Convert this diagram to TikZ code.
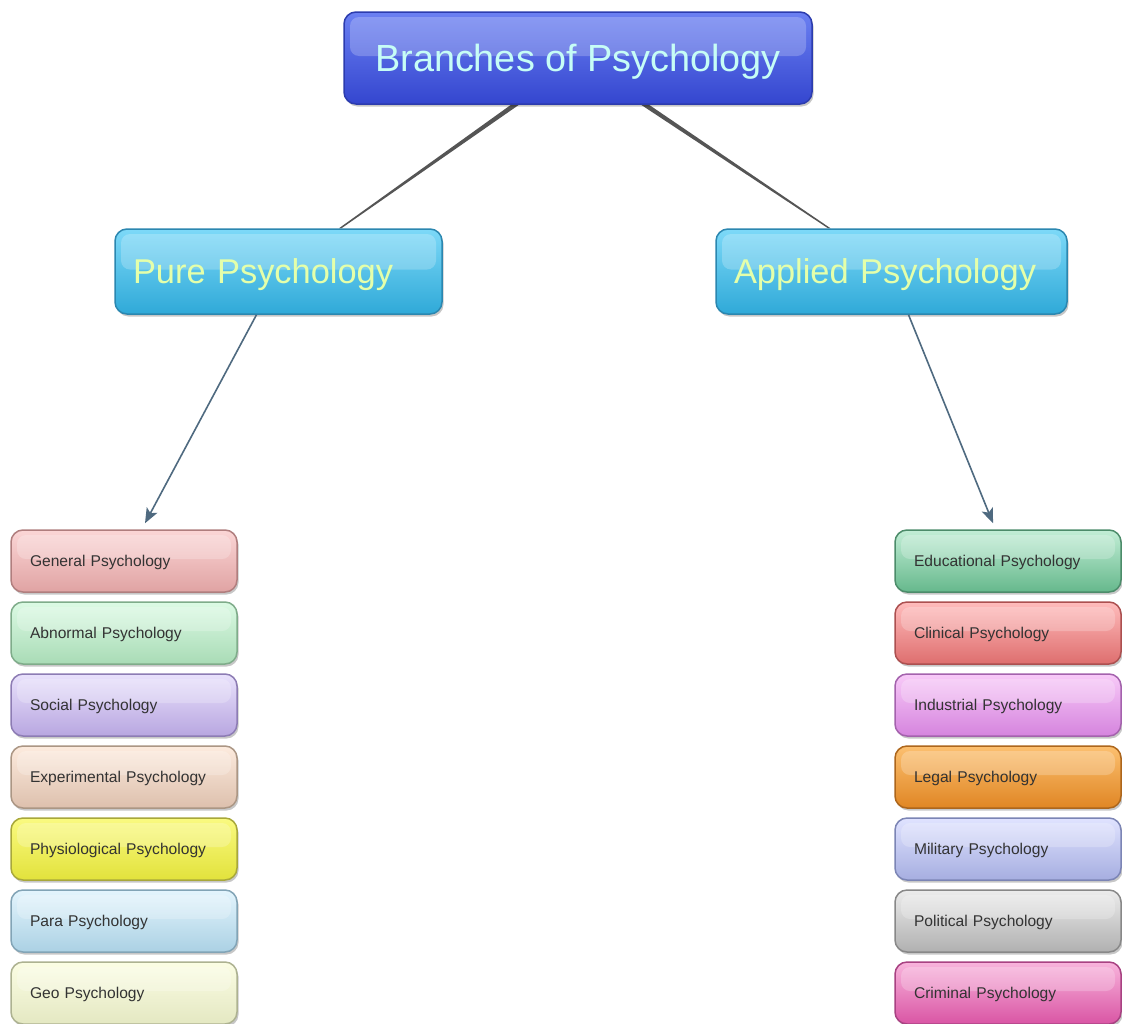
\documentclass[tikz,border=0pt]{standalone}
\usepackage{fontspec}
\setmainfont{Liberation Sans}
\usetikzlibrary{shadows,backgrounds,arrows.meta}
\definecolor{topA}{HTML}{6B80F2}\definecolor{topB}{HTML}{3446CF}\definecolor{topC}{HTML}{2C3CAE}
\definecolor{cyA}{HTML}{7DD9F8}\definecolor{cyB}{HTML}{2FA9D8}\definecolor{cyC}{HTML}{2B87B0}
\definecolor{toptext}{HTML}{C6FDF6}\definecolor{midtext}{HTML}{E4FFAA}\definecolor{leaftext}{HTML}{333333}
\definecolor{linkgrey}{HTML}{555555}\definecolor{arrowcol}{HTML}{4F6A80}
\definecolor{genA}{HTML}{FBD6D6}\definecolor{genB}{HTML}{E0A3A3}\definecolor{genC}{HTML}{B07E7E}
\definecolor{abnA}{HTML}{DCFAE4}\definecolor{abnB}{HTML}{A9DBB6}\definecolor{abnC}{HTML}{7FAC8A}
\definecolor{socA}{HTML}{E9E2FC}\definecolor{socB}{HTML}{B8A6E0}\definecolor{socC}{HTML}{8D7CB4}
\definecolor{expA}{HTML}{FDEBDE}\definecolor{expB}{HTML}{DDC0AD}\definecolor{expC}{HTML}{AB9684}
\definecolor{phyA}{HTML}{FAFA80}\definecolor{phyB}{HTML}{E2E23C}\definecolor{phyC}{HTML}{A8A83A}
\definecolor{parA}{HTML}{E4F5FD}\definecolor{parB}{HTML}{ABD1E4}\definecolor{parC}{HTML}{82A4B6}
\definecolor{geoA}{HTML}{FBFDE4}\definecolor{geoB}{HTML}{E4E8C2}\definecolor{geoC}{HTML}{ADB291}
\definecolor{eduA}{HTML}{C2EED6}\definecolor{eduB}{HTML}{66B88C}\definecolor{eduC}{HTML}{4C8C6A}
\definecolor{cliA}{HTML}{FFBCBC}\definecolor{cliB}{HTML}{DE6E6E}\definecolor{cliC}{HTML}{AC5050}
\definecolor{indA}{HTML}{F8CAF8}\definecolor{indB}{HTML}{D584DE}\definecolor{indC}{HTML}{A462AD}
\definecolor{legA}{HTML}{FCC070}\definecolor{legB}{HTML}{E08624}\definecolor{legC}{HTML}{AD661C}
\definecolor{milA}{HTML}{E0E3FF}\definecolor{milB}{HTML}{A6AEE0}\definecolor{milC}{HTML}{7C85B5}
\definecolor{polA}{HTML}{ECECEC}\definecolor{polB}{HTML}{B0B0B0}\definecolor{polC}{HTML}{888888}
\definecolor{crmA}{HTML}{F8B4DC}\definecolor{crmB}{HTML}{D955A4}\definecolor{crmC}{HTML}{A84282}
\tikzset{
  glossy/.style={rounded corners=12pt, top color=#1A, bottom color=#1B, draw=#1C, line width=1.5pt,
    drop shadow={shadow xshift=1.5pt, shadow yshift=-2.5pt, opacity=0.22, fill=black},
    path picture={\fill[white, opacity=0.22, rounded corners=9pt]
      ([xshift=6pt,yshift=-5pt]path picture bounding box.north west) rectangle
      ([xshift=-6pt,yshift=2pt]path picture bounding box.east);}},
  rootbox/.style={glossy=top, minimum width=468pt, minimum height=92pt, inner sep=0pt,
    text=toptext, font=\fontsize{37.8}{40}\selectfont, text depth=0pt},
  midbox/.style={glossy=cy, minimum height=85pt, inner xsep=18pt, inner ysep=0pt, align=left,
    text=midtext, font=\fontsize{34.4}{36}\selectfont, text depth=0pt},
  leaf/.style={glossy=#1, minimum height=62pt, text width=188pt, inner xsep=19pt, inner ysep=0pt,
    align=left, text=leaftext, font=\fontsize{15.6}{18}\selectfont, text depth=0pt},
  link/.style={fill=linkgrey},
  arr/.style={draw=arrowcol, line width=1.6pt, -{Stealth[length=15pt,width=12pt,inset=3.5pt]}}
}
\begin{document}
\begin{tikzpicture}[x=1pt,y=-1pt]
\useasboundingbox (0,0) rectangle (1122,1023);
\node[rootbox] (root) at (578,58) {Branches of Psychology};
\node[midbox, text width=291pt] (pure) at (278.5,271.5) {Pure Psychology};
\node[midbox, text width=315pt] (applied) at (891.5,271.5) {Applied Psychology};
% left column
\node[leaf=gen] (general) at (124,561) {General Psychology};
\node[leaf=abn] (abnormal) at (124,633) {Abnormal Psychology};
\node[leaf=soc] (social) at (124,705) {Social Psychology};
\node[leaf=exp] (experimental) at (124,777) {Experimental Psychology};
\node[leaf=phy] (physiological) at (124,849) {Physiological Psychology};
\node[leaf=par] (para) at (124,921) {Para Psychology};
\node[leaf=geo] (geo) at (124,993) {Geo Psychology};
% right column
\node[leaf=edu] (educational) at (1008,561) {Educational Psychology};
\node[leaf=cli] (clinical) at (1008,633) {Clinical Psychology};
\node[leaf=ind] (industrial) at (1008,705) {Industrial Psychology};
\node[leaf=leg] (legal) at (1008,777) {Legal Psychology};
\node[leaf=mil] (military) at (1008,849) {Military Psychology};
\node[leaf=pol] (political) at (1008,921) {Political Psychology};
\node[leaf=crm] (criminal) at (1008,993) {Criminal Psychology};
\begin{scope}[on background layer]
  \fill[white] (0,0) rectangle (1122,1023);
  \fill[link] ([xshift=-67pt]root.south) -- ([xshift=-59pt]root.south)
     -- ([xshift=63pt]pure.north) -- ([xshift=60.5pt]pure.north) -- cycle;
  \fill[link] ([xshift=63pt]root.south) -- ([xshift=71pt]root.south)
     -- ([xshift=-61pt]applied.north) -- ([xshift=-63.5pt]applied.north) -- cycle;
\end{scope}
\draw[arr] ([xshift=-22pt]pure.south) -- ([xshift=21pt,yshift=6pt]general.north);
\draw[arr] ([xshift=17pt]applied.south) -- ([xshift=-15pt,yshift=6pt]educational.north);
\end{tikzpicture}
\end{document}
